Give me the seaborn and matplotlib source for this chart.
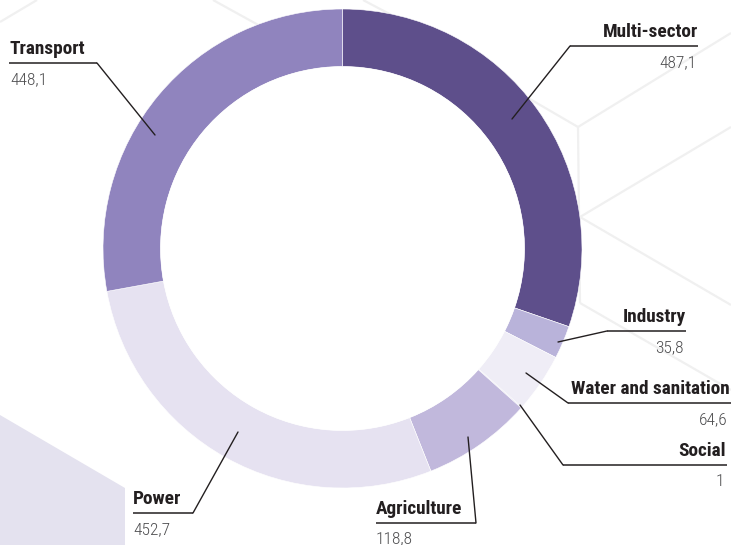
import matplotlib
matplotlib.use("Agg")
import matplotlib.pyplot as plt
import seaborn as sns
from matplotlib.patches import Polygon, Circle

# ---- data ----
categories = ["Multi-sector", "Industry", "Water and sanitation", "Social",
              "Agriculture", "Power", "Transport"]
values = [487.1, 35.8, 64.6, 1, 118.8, 452.7, 448.1]
value_labels = ["487,1", "35,8", "64,6", "1", "118,8", "452,7", "448,1"]
colors = ["#5e4f8b", "#b9b3da", "#efedf6", "#d6d1e8", "#c1b8dc", "#e6e2f1", "#9084be"]

sns.set_theme(style="white")
plt.rcParams["font.family"] = ["Roboto Condensed", "DejaVu Sans"]

W, H = 731, 545
fig = plt.figure(figsize=(W / 100, H / 100), dpi=100)
ax = fig.add_axes([0, 0, 1, 1])
ax.set_xlim(0, W)
ax.set_ylim(0, H)
ax.set_aspect("equal")
ax.axis("off")


def P(x, y):
    return (x, H - y)


# ---- background decoration ----
ax.add_patch(Polygon([P(0, 415), P(125, 488), P(125, 545), P(0, 545)],
                     closed=True, facecolor="#e4e2ef", edgecolor="none", zorder=0))
hex_lines = [
    [(0, 22), (37, 0)],
    [(213, 0), (300, 48)],
    [(363, 0), (420, 30)],
    [(480, 70), (578, 127)],
    [(578, 127), (731, 33)],
    [(578, 127), (580, 303)],
    [(580, 217), (731, 127)],
    [(580, 217), (731, 305)],
    [(580, 303), (731, 390)],
]
for seg in hex_lines:
    (x0, y0), (x1, y1) = P(*seg[0]), P(*seg[1])
    ax.plot([x0, x1], [y0, y1], color="#f0f0f0", lw=1.6, zorder=0.5,
            solid_capstyle="butt")

# ---- donut ----
cx, cy = P(342.5, 248.5)
R = 239.5
ax.pie(values, colors=colors, startangle=90, counterclock=False,
       center=(cx, cy), radius=R, frame=True,
       wedgeprops=dict(width=57.5, edgecolor="white", linewidth=0.4))
ax.add_patch(Circle((cx, cy), R - 57.5, facecolor="white", edgecolor="none", zorder=1))
ax.set_xlim(0, W)
ax.set_ylim(0, H)
ax.axis("off")

# ---- labels ----
# (text x, align, underline y, underline x0, underline x1, leader end, leader start side)
label_layout = {
    "Transport": (10, "left", 63, 9, 97, (155, 135), "right"),
    "Multi-sector": (698, "right", 46, 570, 698, (512, 119), "left"),
    "Industry": (686, "right", 331, 607, 686, (558, 342), "left"),
    "Water and sanitation": (730, "right", 403, 568, 731, (526, 373), "left"),
    "Social": (726, "right", 465, 563, 727, (520, 405), "left"),
    "Agriculture": (376, "left", 523, 376, 476, (468, 437), "right"),
    "Power": (133, "left", 513, 133, 193, (238, 432), "right"),
}

for cat, val in zip(categories, value_labels):
    tx, ha, uy, ux0, ux1, lend, side = label_layout[cat]
    ax.text(*P(tx, uy - 9), cat, ha=ha, va="baseline", fontsize=13.9,
            fontweight="bold", color="#231f20", zorder=5)
    vx = tx - 2 if ha == "right" else tx
    vy = min(uy + 21, 543)
    ax.text(*P(vx, vy), val, ha=ha, va="baseline", fontsize=12.5,
            fontweight=300, color="#4d4d4f", zorder=5)
    sx = ux0 if side == "left" else ux1
    xs = [P(ux0, uy)[0], P(ux1, uy)[0]]
    ys = [P(ux0, uy)[1], P(ux1, uy)[1]]
    ax.plot(xs, ys, color="#231f20", lw=1.1, zorder=5, solid_capstyle="butt")
    a, b = P(sx, uy), P(*lend)
    ax.plot([a[0], b[0]], [a[1], b[1]], color="#231f20", lw=1.0, zorder=5)

fig.savefig("out.png", dpi=100)
